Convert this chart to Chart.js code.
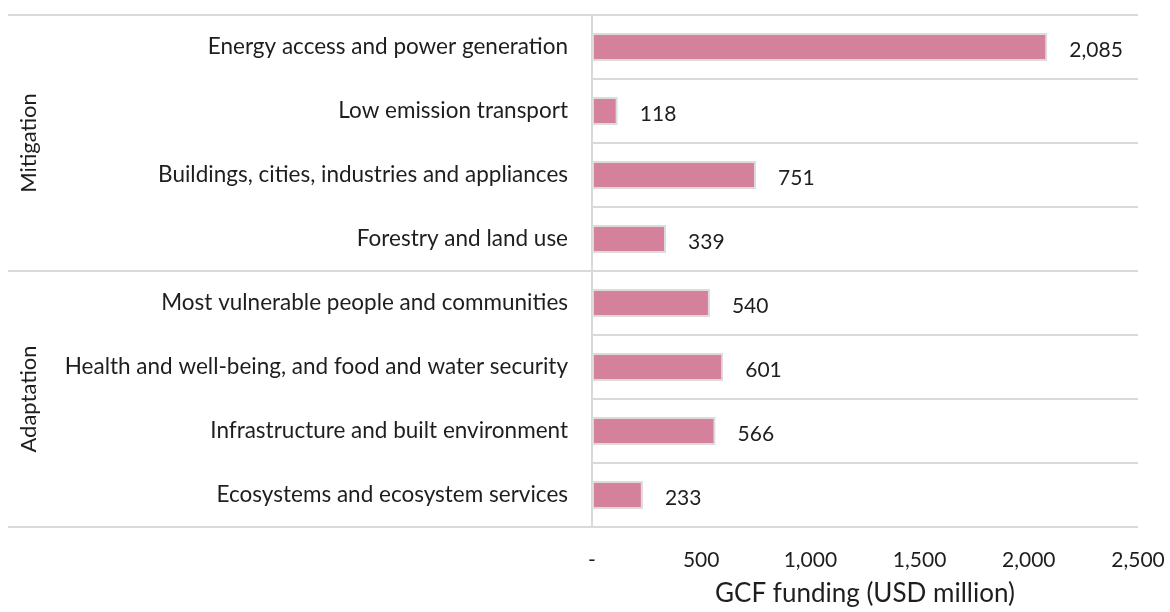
<!DOCTYPE html>
<html>
<head>
<meta charset="utf-8">
<title>GCF funding by result area</title>
<script src="https://cdn.jsdelivr.net/npm/chart.js@4.4.1/dist/chart.umd.min.js"></script>
<style>
  html, body { margin: 0; padding: 0; background: #fff; }
  #wrap { position: relative; width: 1170px; height: 612px; }
</style>
</head>
<body>
<div id="wrap"><canvas id="chart"></canvas></div>
<script>
  // result areas, top to bottom
  var categories = [
    "Energy access and power generation",
    "Low emission transport",
    "Buildings, cities, industries and appliances",
    "Forestry and land use",
    "Most vulnerable people and communities",
    "Health and well-being, and food and water security",
    "Infrastructure and built environment",
    "Ecosystems and ecosystem services"
  ];
  // USD million
  var funding = [2085, 118, 751, 339, 540, 601, 566, 233];
  var groups = ["Mitigation", "Adaptation"];
  var groupSizes = [4, 4];
  var xTicks = [0, 500, 1000, 1500, 2000, 2500];

  var FONT = "Lato, 'Open Sans', sans-serif";
  var INK = "#1e1e1e";
  var LINE = "#d9d9d9";

  function fmt(v) {
    return v === 0 ? "-" : Number(v).toLocaleString("en-US");
  }

  // row separators, group separators, value labels, group names, axis title
  var decor = {
    id: "decor",
    beforeDatasetsDraw: function (chart) {
      var ctx = chart.ctx, area = chart.chartArea, y = chart.scales.y;
      ctx.save();
      ctx.strokeStyle = LINE;
      ctx.lineWidth = 2;
      var boundaries = {};
      var idx = 0;
      boundaries[0] = true;
      groupSizes.forEach(function (n) { idx += n; boundaries[idx] = true; });
      for (var i = 0; i <= categories.length; i++) {
        var py = Math.round(y.getPixelForValue(i - 0.5));
        var x0 = boundaries[i] ? 8 : area.left;
        ctx.beginPath();
        ctx.moveTo(x0, py);
        ctx.lineTo(area.right, py);
        ctx.stroke();
      }
      ctx.beginPath();
      ctx.moveTo(area.left, area.top);
      ctx.lineTo(area.left, area.bottom);
      ctx.stroke();
      ctx.restore();
    },
    afterDatasetsDraw: function (chart) {
      var ctx = chart.ctx, area = chart.chartArea;
      var meta = chart.getDatasetMeta(0);
      ctx.save();
      ctx.fillStyle = INK;
      ctx.font = "21px " + FONT;
      ctx.textAlign = "left";
      ctx.textBaseline = "middle";
      meta.data.forEach(function (bar, i) {
        ctx.fillText(fmt(funding[i]), bar.x + 22, bar.y + 3);
      });

      // group names, rotated
      var y = chart.scales.y;
      ctx.font = "22px " + FONT;
      ctx.textAlign = "center";
      var start = 0;
      groupSizes.forEach(function (n, g) {
        var top = y.getPixelForValue(start - 0.5);
        var bottom = y.getPixelForValue(start + n - 0.5);
        ctx.save();
        ctx.translate(29, (top + bottom) / 2);
        ctx.rotate(-Math.PI / 2);
        ctx.fillText(groups[g], 0, 0);
        ctx.restore();
        start += n;
      });

      // x axis title
      ctx.font = "26px " + FONT;
      ctx.fillText("GCF funding (USD million)", (area.left + area.right) / 2, 594);
      ctx.restore();
    }
  };

  new Chart(document.getElementById("chart"), {
    type: "bar",
    data: {
      labels: categories,
      datasets: [{
        data: funding,
        backgroundColor: "#d6819c",
        borderColor: "#dcdcdc",
        borderWidth: 2,
        borderSkipped: false,
        categoryPercentage: 1,
        barPercentage: 0.44
      }]
    },
    options: {
      indexAxis: "y",
      responsive: true,
      maintainAspectRatio: false,
      animation: false,
      layout: { padding: { top: 15, right: 32, left: 0, bottom: 0 } },
      plugins: { legend: { display: false }, tooltip: { enabled: false } },
      scales: {
        x: {
          min: 0,
          max: 2500,
          afterBuildTicks: function (scale) {
            scale.ticks = xTicks.map(function (v) { return { value: v }; });
          },
          afterFit: function (scale) {
            scale.height = 85;
            scale.paddingLeft = 0;
            scale.paddingRight = 0;
          },
          border: { display: false },
          grid: { display: false, drawTicks: false },
          ticks: {
            padding: 21,
            color: INK,
            font: { family: FONT, size: 21 },
            maxRotation: 0,
            callback: function (v) { return fmt(v); }
          }
        },
        y: {
          afterFit: function (scale) {
            scale.width = 592;
            scale.paddingTop = 0;
            scale.paddingBottom = 0;
          },
          border: { display: false },
          grid: { display: false, drawTicks: false },
          ticks: {
            padding: 24,
            color: INK,
            font: { family: FONT, size: 22.5 }
          }
        }
      }
    },
    plugins: [decor]
  });
</script>
</body>
</html>
